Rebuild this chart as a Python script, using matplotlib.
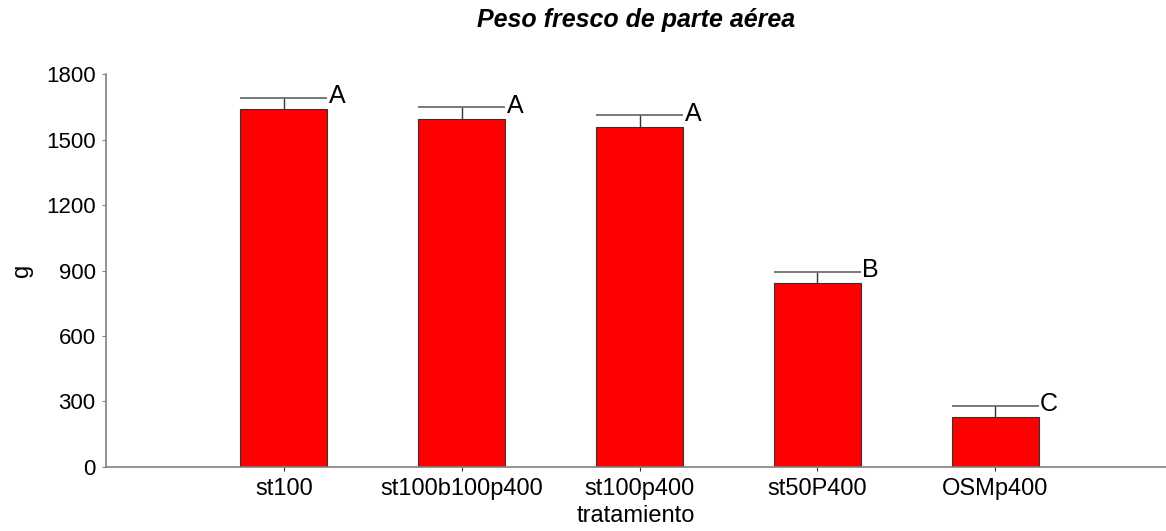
"""
Fresh weight of aerial part per treatment, bars with error caps and letter groups
"""

import matplotlib
matplotlib.use('Agg')
import matplotlib.pyplot as plt
from numpy import arange

plt.rcParams['font.family'] = ['Liberation Sans', 'DejaVu Sans']

treatments = ['st100', 'st100b100p400', 'st100p400', 'st50P400', 'OSMp400']
means = [1641, 1597, 1558, 844, 227]
upper = [1693, 1649, 1612, 895, 280]
groups = ['A', 'A', 'A', 'B', 'C']


def main():

    fig = plt.figure(figsize=(11.66, 5.31), dpi=100)
    ax = fig.add_axes([0.0909, 0.121, 0.9091, 0.739])

    xs = arange(len(treatments))
    w = 0.49
    axis_grey = '#808080'

    ax.bar(xs, means, width=w, color='#ff0000', edgecolor='#333333', linewidth=0.8, zorder=2)

    # error bars: stem from top of bar, cap as wide as the bar
    ax.vlines(xs, means, upper, color='#333333', linewidth=1.0, zorder=3)
    ax.hlines(upper, xs - w / 2, xs + w / 2, color='#555555', linewidth=1.1, zorder=3)

    for x, y, g in zip(xs, upper, groups):
        ax.annotate(g, (x + w / 2, y), xytext=(1, -4), textcoords='offset points',
                    ha='left', va='baseline', fontsize=18)

    ax.set_xlim(-1, 4.96)
    ax.set_ylim(0, 1800)
    ax.set_yticks(range(0, 1801, 300))
    ax.set_xticks(xs)
    ax.set_xticklabels(treatments, fontsize=17)
    ax.tick_params(axis='y', labelsize=16, direction='out', length=3, color=axis_grey, pad=4.5)
    ax.tick_params(axis='x', direction='out', length=3, color='#333333', pad=5)

    for side in ['top', 'right']:
        ax.spines[side].set_visible(False)
    for side in ['left', 'bottom']:
        ax.spines[side].set_color(axis_grey)
        ax.spines[side].set_linewidth(1.2)

    ax.set_xlabel('tratamiento', fontsize=17, labelpad=4)
    ax.set_ylabel('g', fontsize=17, va='center')
    ax.yaxis.set_label_coords(-0.079, 0.5)
    ax.set_title('Peso fresco de parte aérea', fontsize=18, fontweight='bold',
                 fontstyle='italic', pad=34)

    fig.savefig('out.png', dpi=100)


if __name__ == '__main__':
    main()
